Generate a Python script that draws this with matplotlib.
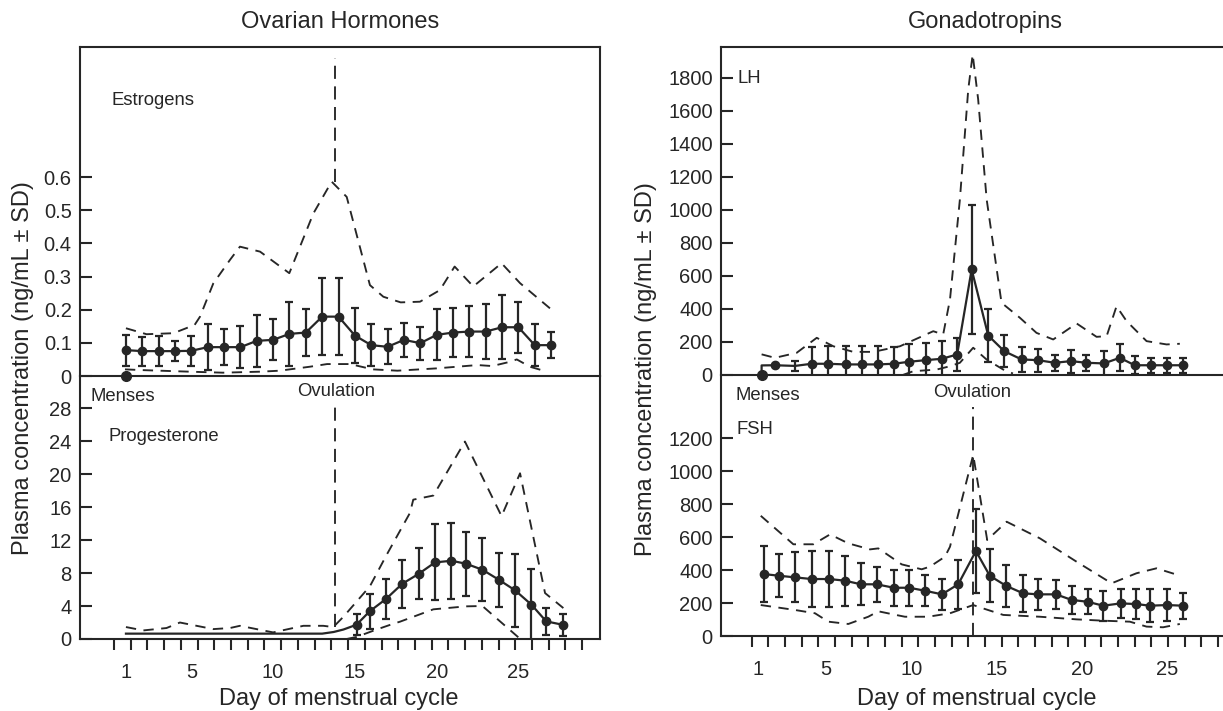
import numpy as np
import matplotlib
matplotlib.use('Agg')
import matplotlib.pyplot as plt
from matplotlib.ticker import FuncFormatter

plt.rcParams['font.family'] = ['Liberation Sans', 'DejaVu Sans']

# ---- Estrogens (ng/mL), days 1-27
est_days = np.arange(1, 28)
est_mean = [0.078, 0.075, 0.075, 0.075, 0.076, 0.087, 0.087, 0.087, 0.106, 0.109, 0.127, 0.131,
            0.179, 0.179, 0.122, 0.093, 0.088, 0.109, 0.099, 0.124, 0.131, 0.134, 0.134, 0.147,
            0.147, 0.093, 0.093]
est_sd = [0.047, 0.044, 0.046, 0.031, 0.045, 0.069, 0.054, 0.064, 0.078, 0.062, 0.097, 0.070,
          0.117, 0.117, 0.082, 0.064, 0.053, 0.052, 0.050, 0.077, 0.073, 0.077, 0.083, 0.097,
          0.077, 0.064, 0.039]
est_hi_days = [1.0, 2.26, 3.9, 5.2, 5.53, 6.34, 7.36, 7.97, 9.2, 10.99, 12.46, 13.58, 14.5, 15.92,
               16.74, 17.8, 18.98, 20.2, 21.1, 22.24, 23.97, 25.1, 26.93]
est_hi = [0.144, 0.126, 0.129, 0.154, 0.179, 0.279, 0.35, 0.39, 0.375, 0.31, 0.49, 0.586, 0.54,
          0.274, 0.239, 0.222, 0.224, 0.259, 0.33, 0.27, 0.34, 0.28, 0.204]
est_lo_days = [0.94, 1.86, 3.08, 4.91, 6.93, 9.2, 10.4, 12.25, 13.3, 14.7, 16.1, 17.6, 20.0, 22.5,
               23.4, 24.5, 24.9, 25.7, 26.75]
est_lo = [0.020, 0.018, 0.016, 0.013, 0.010, 0.013, 0.016, 0.028, 0.036, 0.036, 0.020, 0.016,
          0.023, 0.033, 0.030, 0.043, 0.050, 0.028, 0.013]

# ---- Progesterone (ng/mL)
prog_base_days = [1.0, 13.0, 13.7, 14.3, 15.1]
prog_base = [0.65, 0.65, 0.85, 1.15, 1.73]
prog_days = [15.1, 15.9, 16.9, 17.9, 18.9, 19.9, 20.9, 21.8, 22.8, 23.8, 24.8, 25.8, 26.7, 27.7]
prog_mean = [1.73, 3.35, 4.85, 6.7, 7.9, 9.29, 9.49, 9.13, 8.4, 7.19, 5.9, 4.16, 2.14, 1.73]
prog_sd = [1.3, 2.1, 2.45, 2.9, 3.1, 4.6, 4.6, 3.9, 3.85, 3.3, 4.4, 4.3, 1.6, 1.35]
prog_hi_days = [1.0, 2.06, 3.48, 4.3, 6.34, 7.36, 7.97, 10.0, 11.85, 13.07, 13.68, 14.3, 15.92,
                16.94, 18.37, 18.57, 19.8, 21.73, 23.97, 25.1, 26.63, 27.75]
prog_hi = [1.45, 1.04, 1.33, 2.0, 1.2, 1.33, 1.6, 0.8, 1.6, 1.6, 1.45, 2.7, 6.4, 10.2, 15.3, 16.9,
           17.4, 23.95, 14.9, 20.1, 5.57, 3.75]
prog_lo_days = [14.5, 15.1, 16.3, 17.35, 17.76, 19.8, 21.8, 22.8, 23.9, 25.0]
prog_lo = [0.0, 0.25, 1.13, 1.85, 2.1, 3.6, 3.96, 4.0, 2.1, 0.2]

# ---- LH (ng/mL)
lh_start_days = [1.23, 1.23, 2.01]
lh_start = [0, 58, 59]
lh_days = [2.01, 3.19, 4.16, 5.10, 6.16, 7.09, 8.03, 8.98, 9.86, 10.86, 11.78, 12.69, 13.54, 14.51,
           15.45, 16.47, 17.4, 18.42, 19.35, 20.27, 21.29, 22.22, 23.1, 24.03, 24.96, 25.9]
lh_mean = [59, 55, 68, 68, 64, 64, 64, 68, 80, 90, 98, 124, 639, 239, 144, 94, 90, 74, 84, 74, 70,
           104, 59, 59, 59, 59]
lh_sd = [0, 30, 100, 106, 110, 110, 110, 100, 109, 105, 107, 101, 390, 160, 97, 74, 69, 50, 70, 50,
         74, 81, 55, 45, 45, 45]
lh_hi_days = [1.23, 2.01, 3.28, 4.46, 5.43, 6.6, 7.77, 9.34, 11.29, 11.87, 12.27, 12.85, 13.34, 13.6,
              13.92, 14.42, 15.29, 16.37, 17.34, 18.32, 19.69, 20.86, 21.45, 22.03, 22.62, 23.79,
              24.96, 25.74]
lh_hi = [125, 104, 134, 225, 174, 140, 140, 174, 265, 245, 457, 1062, 1728, 1940, 1669, 1062, 437,
         346, 255, 215, 312, 231, 235, 416, 326, 205, 185, 189]
lh_lo_days = [9.5, 10.12, 11.49, 12.27, 12.85, 13.63, 14.41, 15.39, 15.96]
lh_lo = [0, 23, 33, 53, 74, 165, 94, 33, 9]

# ---- FSH (ng/mL)
fsh_days = [1.37, 2.25, 3.19, 4.16, 5.19, 6.11, 7.05, 7.97, 8.98, 9.88, 10.8, 11.8, 12.75, 13.79,
            14.6, 15.55, 16.56, 17.44, 18.48, 19.4, 20.33, 21.25, 22.27, 23.2, 23.98, 25.0, 25.93]
fsh_mean = [376, 366, 356, 346, 346, 336, 314, 314, 293, 293, 275, 253, 314, 516, 366, 305, 259,
            253, 253, 219, 208, 184, 198, 194, 184, 188, 184]
fsh_sd = [170, 132, 152, 172, 172, 152, 127, 107, 108, 108, 95, 95, 147, 253, 160, 126, 111, 93,
          87, 85, 75, 91, 87, 91, 101, 97, 79]
fsh_hi_days = [1.18, 3.09, 4.26, 5.24, 6.3, 7.58, 8.07, 9.44, 10.61, 11.09, 11.97, 12.27, 13.63,
               14.45, 15.59, 17.54, 19.69, 21.74, 23.2, 24.37, 25.64]
fsh_hi = [730, 557, 557, 617, 563, 526, 532, 435, 405, 421, 481, 542, 1100, 583, 694, 593, 451,
          320, 381, 411, 370]
fsh_lo_days = [1.18, 3.19, 4.36, 5.14, 6.31, 7.48, 8.07, 9.0, 9.63, 10.99, 12.27, 13.63, 14.2,
               15.39, 17.54, 19.69, 21.25, 22.81, 23.79, 24.76, 25.74]
fsh_lo = [188, 158, 138, 87, 73, 117, 150, 130, 117, 117, 138, 188, 168, 128, 117, 101, 93, 87,
          57, 53, 73]

ovulation_left = 13.78
ovulation_right = 13.63
day_labels = [1, 5, 10, 15, 20, 25]

INK = '#262626'
W, H = 1223, 711
fig = plt.figure(figsize=(W / 100, H / 100), dpi=100)


def px_axes(x0, y0, x1, y1):
    return fig.add_axes([x0 / W, 1 - y1 / H, (x1 - x0) / W, (y1 - y0) / H])


def draw_series(ax, days, mean, sd, hide=()):
    days = np.asarray(days)
    mean = np.asarray(mean, dtype=float)
    ax.plot(days, mean, color=INK, lw=1.6, zorder=3)
    ax.errorbar(days, mean, yerr=sd, fmt='none', ecolor=INK, elinewidth=1.6,
                capsize=2.6, capthick=1.6, zorder=3)
    keep = [i for i in range(len(days)) if i not in hide]
    ax.plot(days[keep], mean[keep], 'o', color=INK, ms=6, zorder=4)


def dashed(ax, x, y, dash=(5.5, 4)):
    ax.plot(x, y, color=INK, lw=1.35, ls=(0, dash), zorder=2)


def style(ax, xlim, ylim, yticks, fmt=None):
    ax.set_xlim(*xlim)
    ax.set_ylim(*ylim)
    ax.set_yticks(yticks)
    if fmt:
        ax.yaxis.set_major_formatter(FuncFormatter(fmt))
    ax.tick_params(axis='y', direction='in', length=8.5, width=1.5, labelsize=14.5,
                   pad=6, color=INK, labelcolor=INK)
    for s in ax.spines.values():
        s.set_linewidth(1.5)
        s.set_color(INK)


def x_axis(ax, minor_pos):
    ax.set_xticks(day_labels)
    ax.set_xticks(minor_pos, minor=True)
    ax.tick_params(axis='x', which='major', length=0, labelsize=14.5, pad=17, labelcolor=INK)
    ax.tick_params(axis='x', which='minor', direction='out', length=7.7, width=1.5, color=INK)


def no_x(ax):
    ax.tick_params(axis='x', which='both', bottom=False, labelbottom=False)


est_fmt = lambda v, p: '0' if v == 0 else f'{v:.1f}'

# ---------------- Left: ovarian hormones
left_xlim = (-1.81, 29.99)
ax_e = px_axes(80, 47, 600, 376)
ax_p = px_axes(80, 376, 600, 639)
ax_p.patch.set_visible(False)
style(ax_e, left_xlim, (0, 0.992), np.arange(0, 0.61, 0.1), est_fmt)
style(ax_p, left_xlim, (0, 31.9), np.arange(0, 29, 4))
no_x(ax_e)
ax_p.spines['top'].set_visible(False)
x_axis(ax_p, np.linspace(0.27, 28.9, 29))

dashed(ax_e, est_hi_days, est_hi)
dashed(ax_e, est_lo_days, est_lo)
draw_series(ax_e, est_days, est_mean, est_sd)
ax_e.plot([1], [0], 'o', color=INK, ms=7, clip_on=False, zorder=5)
dashed(ax_e, [ovulation_left, ovulation_left], [0.586, 0.96], dash=(7, 4))

dashed(ax_p, prog_hi_days, prog_hi)
dashed(ax_p, prog_lo_days, prog_lo)
ax_p.plot(prog_base_days, prog_base, color=INK, lw=1.6, zorder=3)
draw_series(ax_p, prog_days, prog_mean, prog_sd)
dashed(ax_p, [ovulation_left, ovulation_left], [1.5, 28.4], dash=(7, 4))

ax_e.text(0.14, 0.832, 'Estrogens', fontsize=13.3, color=INK, va='center')
ax_p.text(-1.16, 29.4, 'Menses', fontsize=13.3, color=INK, va='center')
ax_p.text(13.84, 30.0, 'Ovulation', fontsize=13.3, color=INK, va='center', ha='center')
ax_p.text(-0.04, 24.6, 'Progesterone', fontsize=13.3, color=INK, va='center')

# ---------------- Right: gonadotropins
right_xlim = (-1.15, 28.27)
ax_l = px_axes(721, 47, 1223, 375)
ax_f = px_axes(721, 375, 1223, 636)
ax_f.patch.set_visible(False)
style(ax_l, right_xlim, (0, 1985), np.arange(0, 1801, 200))
style(ax_f, right_xlim, (0, 1585), np.arange(0, 1201, 200))
no_x(ax_l)
ax_l.spines['right'].set_visible(False)
ax_f.spines['right'].set_visible(False)
ax_f.spines['top'].set_visible(False)
x_axis(ax_f, np.linspace(0.65, 27.98, 29))

dashed(ax_l, lh_hi_days, lh_hi)
dashed(ax_l, lh_lo_days, lh_lo)
ax_l.plot(lh_start_days, lh_start, color=INK, lw=1.6, zorder=3)
draw_series(ax_l, lh_days, lh_mean, lh_sd, hide=(1,))
ax_l.plot([lh_start_days[0]], [0], 'o', color=INK, ms=7, clip_on=False, zorder=5)

dashed(ax_f, fsh_hi_days, fsh_hi)
dashed(ax_f, fsh_lo_days, fsh_lo)
draw_series(ax_f, fsh_days, fsh_mean, fsh_sd)
dashed(ax_f, [ovulation_right, ovulation_right], [0, 1392], dash=(7, 4))

ax_l.text(-0.17, 1795, 'LH', fontsize=13.3, color=INK, va='center')
ax_f.text(-0.29, 1459, 'Menses', fontsize=13.3, color=INK, va='center')
ax_f.text(13.55, 1481, 'Ovulation', fontsize=13.3, color=INK, va='center', ha='center')
ax_f.text(-0.23, 1257, 'FSH', fontsize=13.3, color=INK, va='center')

# ---------------- Titles and axis labels
def ftext(x, y, s, **kw):
    fig.text(x / W, 1 - y / H, s, fontsize=17, color=INK, ha='center', va='center', **kw)

ftext(340, 22, 'Ovarian Hormones')
ftext(985, 22, 'Gonadotropins')
ftext(23, 368, 'Plasma concentration (ng/mL ± SD)', rotation=90)
ftext(646, 369, 'Plasma concentration (ng/mL ± SD)', rotation=90)
ftext(339, 699, 'Day of menstrual cycle')
ftext(977, 699, 'Day of menstrual cycle')

fig.savefig('out.png', dpi=100)
